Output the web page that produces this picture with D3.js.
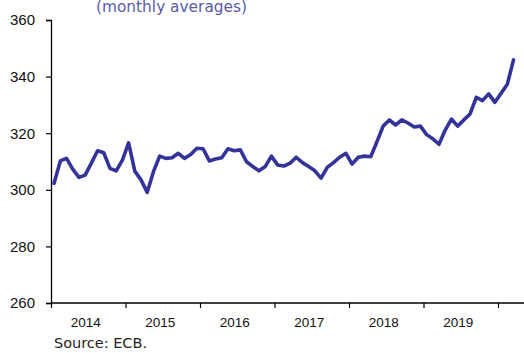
<!DOCTYPE html>
<html>
<head>
<meta charset="utf-8">
<script src="https://cdn.jsdelivr.net/npm/d3@7/dist/d3.min.js"></script>
<style>
  html, body { margin: 0; padding: 0; background: #fff; }
  svg { display: block; }
</style>
</head>
<body>
<svg id="chart" width="524" height="353"></svg>
<script>
// Monthly averages, Jan 2014 – Mar 2020
const startYear = 2014;
const values = [
  302.3, 310.2, 311.1, 307.3, 304.4, 305.2, 309.4, 313.8, 313.1, 307.6, 306.7, 310.5,
  316.6, 306.6, 303.5, 299.1, 306.4, 311.9, 311.1, 311.3, 312.9, 311.1, 312.5, 314.7,
  314.5, 310.2, 310.9, 311.3, 314.5, 313.8, 314.1, 309.9, 308.2, 306.7, 308.2, 311.9,
  308.8, 308.4, 309.4, 311.5, 309.6, 308.2, 306.7, 304.1, 307.9, 309.6, 311.5, 312.9,
  309.1, 311.5, 311.9, 311.7, 317.0, 322.5, 324.7, 322.9, 324.7, 323.6, 322.2, 322.5,
  319.5, 318.0, 316.1, 321.1, 325.0, 322.5, 324.7, 326.8, 332.7, 331.5, 333.9, 330.9,
  334.1, 337.3, 345.9
];
const yearLabels = ["2014", "2015", "2016", "2017", "2018", "2019"];
const yearTicks = [2014, 2015, 2016, 2017, 2018, 2019, 2020];
const yTicks = [260, 280, 300, 320, 340, 360];
const subtitle = "(monthly averages)";
const source = "Source: ECB.";

const svg = d3.select("#chart");

const x = d3.scaleLinear()
  .domain([2014, 2020 + 26 / 74.5])
  .range([51, 524]);
const y = d3.scaleLinear()
  .domain([260, 360])
  .range([303, 20]);

// subtitle, clipped at the top edge
svg.append("text")
  .attr("x", 96).attr("y", 12)
  .attr("font-family", "'DejaVu Sans', sans-serif")
  .attr("font-size", 16.5)
  .attr("fill", "#5a5aa8")
  .attr("textLength", 151)
  .attr("lengthAdjust", "spacingAndGlyphs")
  .text(subtitle);

// y axis
const yAxis = svg.append("g")
  .attr("transform", "translate(51,0)")
  .call(d3.axisLeft(y).tickValues(yTicks).tickSize(5).tickPadding(11).tickFormat(d3.format("d")));
yAxis.select(".domain").attr("stroke", "#000").attr("stroke-width", 1.3);
yAxis.selectAll(".tick line").attr("stroke", "#000").attr("stroke-width", 1.2);
yAxis.selectAll(".tick text")
  .attr("font-family", "'Liberation Sans', Arial, sans-serif")
  .attr("font-size", 15)
  .attr("fill", "#111");

// x axis: year boundaries as ticks, labels centred on each year
const xAxis = svg.append("g")
  .attr("transform", "translate(0,303)")
  .call(d3.axisBottom(x).tickValues(yearTicks).tickSize(5).tickFormat(""));
xAxis.select(".domain").attr("stroke", "#000").attr("stroke-width", 1.3)
  .attr("d", `M${x.range()[0]},0H${x.range()[1]}`);
xAxis.selectAll(".tick line").attr("stroke", "#000").attr("stroke-width", 1.2);

svg.append("g").selectAll("text")
  .data(yearLabels)
  .join("text")
  .attr("x", d => x(+d + 0.5) - 2.5)
  .attr("y", 327)
  .attr("text-anchor", "middle")
  .attr("font-family", "'Liberation Sans', Arial, sans-serif")
  .attr("font-size", 13.5)
  .attr("fill", "#111")
  .text(d => d);

// series line
const line = d3.line()
  .x((d, i) => x(startYear + (i + 0.5) / 12))
  .y(d => y(d));

svg.append("path")
  .datum(values)
  .attr("d", line)
  .attr("fill", "none")
  .attr("stroke", "#333399")
  .attr("stroke-width", 3.6)
  .attr("stroke-linejoin", "round")
  .attr("stroke-linecap", "round");

// source note
svg.append("text")
  .attr("x", 54).attr("y", 348)
  .attr("font-family", "'DejaVu Sans', sans-serif")
  .attr("font-size", 13.5)
  .attr("fill", "#222")
  .attr("textLength", 93)
  .attr("lengthAdjust", "spacingAndGlyphs")
  .text(source);
</script>
</body>
</html>
